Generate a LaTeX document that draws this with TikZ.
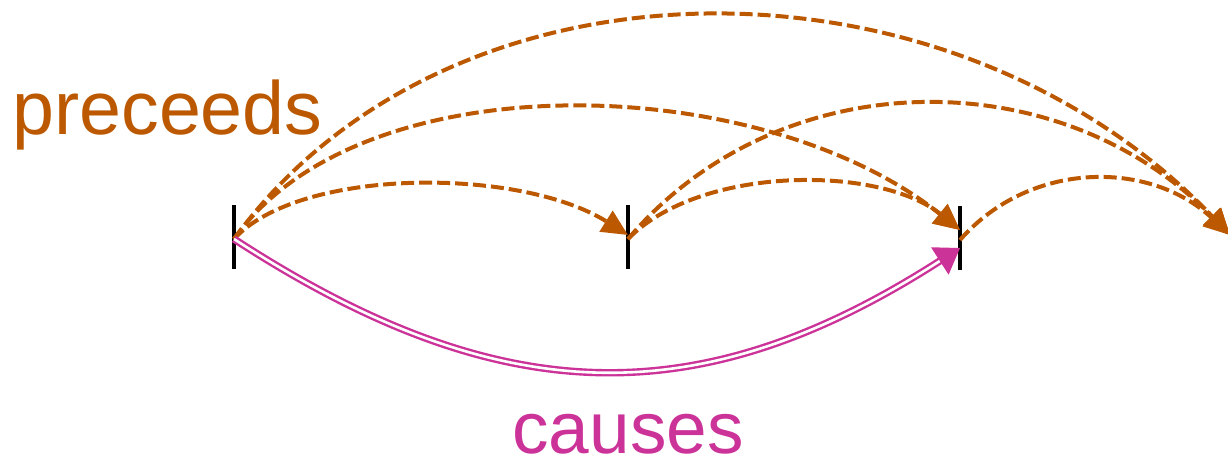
\documentclass[tikz,border=0pt]{standalone}
\usepackage{fontspec}
\setmainfont{Liberation Sans}
\usetikzlibrary{arrows.meta}
\definecolor{prec}{RGB}{187,88,0}
\definecolor{caus}{RGB}{204,51,153}
\tikzset{
  tick/.style={draw=black,line width=2pt},
  precarrow/.style={draw=prec,line width=2pt,dash pattern=on 6.5pt off 2.5pt,
    -{Triangle[length=13pt,width=12pt]}},
  causarrow/.style={draw=caus,line width=1.2pt,double=white,double distance=1.3pt,
    -{Triangle[length=12pt,width=16pt]}},
  lbl/.style={inner sep=0pt}
}
\begin{document}
\begin{tikzpicture}[x=0.5pt,y=-0.5pt]
\useasboundingbox (0,0) rectangle (1228,463);
\coordinate (A) at (234,239);
\coordinate (B) at (628,239);
\coordinate (C) at (960,240);
\coordinate (D) at (1230,235);
\foreach \p in {A,B,C}{
  \draw[tick] ([yshift=17pt]\p) -- ([yshift=-15pt]\p);
}
\node[lbl,text=prec,anchor=base west,font=\fontsize{37.7}{40}\selectfont] (prec) at (12,134) {preceeds};
\node[lbl,text=caus,anchor=base,font=\fontsize{36.5}{40}\selectfont] (caus) at (628,453) {causes};
% preceeds arrows
\draw[precarrow] (A) .. controls (300,167) and (520,167) .. ([yshift=2pt]B);
\draw[precarrow] (A) .. controls (360,60) and (760,70) .. ([yshift=5pt]C);
\draw[precarrow] (A) .. controls (450,-58) and (950,-58) .. (D);
\draw[precarrow] (B) .. controls (700,165) and (880,165) .. ([yshift=5pt]C);
\draw[precarrow] (B) .. controls (780,60) and (1060,60) .. (D);
\draw[precarrow] (C) .. controls (1030,160) and (1150,160) .. (D);
% causes arrow
\draw[causarrow] (A) .. controls (500,412) and (700,415) .. ([yshift=-4pt]C);
\end{tikzpicture}
\end{document}
